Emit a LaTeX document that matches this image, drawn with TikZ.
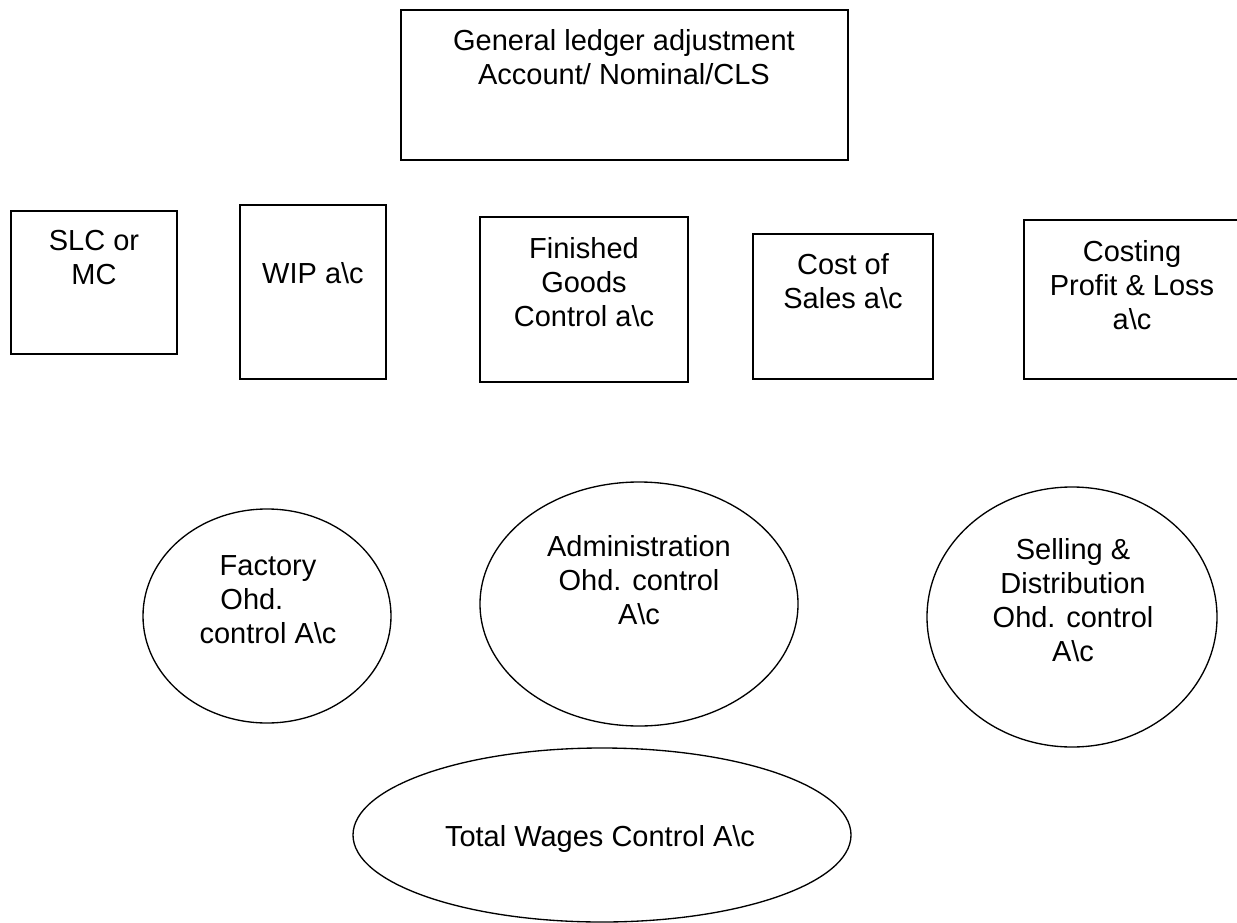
\documentclass[tikz,border=0pt]{standalone}
\usepackage{fontspec}
\setmainfont{Liberation Sans}
\tikzset{
	acbox/.style={draw, line width=1pt},
	ohdoval/.style={draw, line width=1pt},
	actext/.style={anchor=north, inner sep=0pt, align=center,
		font=\fontsize{21.75}{25.5}\selectfont},
}
\newcommand{\ac}{\textbackslash}

\begin{document}
\begin{tikzpicture}[x=0.75pt,y=0.75pt,yscale=-1,xscale=1]
\path[use as bounding box, clip] (0,0) rectangle (1237,923);

%ledger box
\draw[acbox] (401,10) rectangle (848,160);
\node[actext] (gla) at (624,29) {General ledger adjustment\\Account/ Nominal/CLS};

%control accounts
\draw[acbox] (11,211) rectangle (177,354);
\node[actext] (slc) at (94,230) {SLC or\\MC};
\draw[acbox] (240,205) rectangle (386,379);
\node[actext] (wip) at (313,262) {WIP a\ac c};
\draw[acbox] (480,217) rectangle (688,382);
\node[actext] (fgc) at (584,237) {Finished\\Goods\\Control a\ac c};
\draw[acbox] (753,234) rectangle (933,379);
\node[actext] (cos) at (843,253) {Cost of\\Sales a\ac c};
\draw[acbox] (1024,220) rectangle (1241,379);
\node[actext] (cpl) at (1132,240) {Costing\\Profit \& Loss\\a\ac c};

%overhead accounts
\draw[ohdoval] (267,616) ellipse [x radius=124, y radius=107];
\node[actext] (foh) at (268,555) {Factory\\Ohd.\hphantom{nn}\\control A\ac c};
\draw[ohdoval] (639,604) ellipse [x radius=159, y radius=122];
\node[actext] (aoh) at (639,535) {Administration\\Ohd. control\\A\ac c};
\draw[ohdoval] (1072,617) ellipse [x radius=145, y radius=130];
\node[actext] (soh) at (1073,538) {Selling \&\\Distribution\\Ohd. control\\A\ac c};

%wages
\draw[ohdoval] (602,835) ellipse [x radius=249, y radius=87];
\node[actext] (twc) at (600,825) {Total Wages Control A\ac c};
\end{tikzpicture}
\end{document}
